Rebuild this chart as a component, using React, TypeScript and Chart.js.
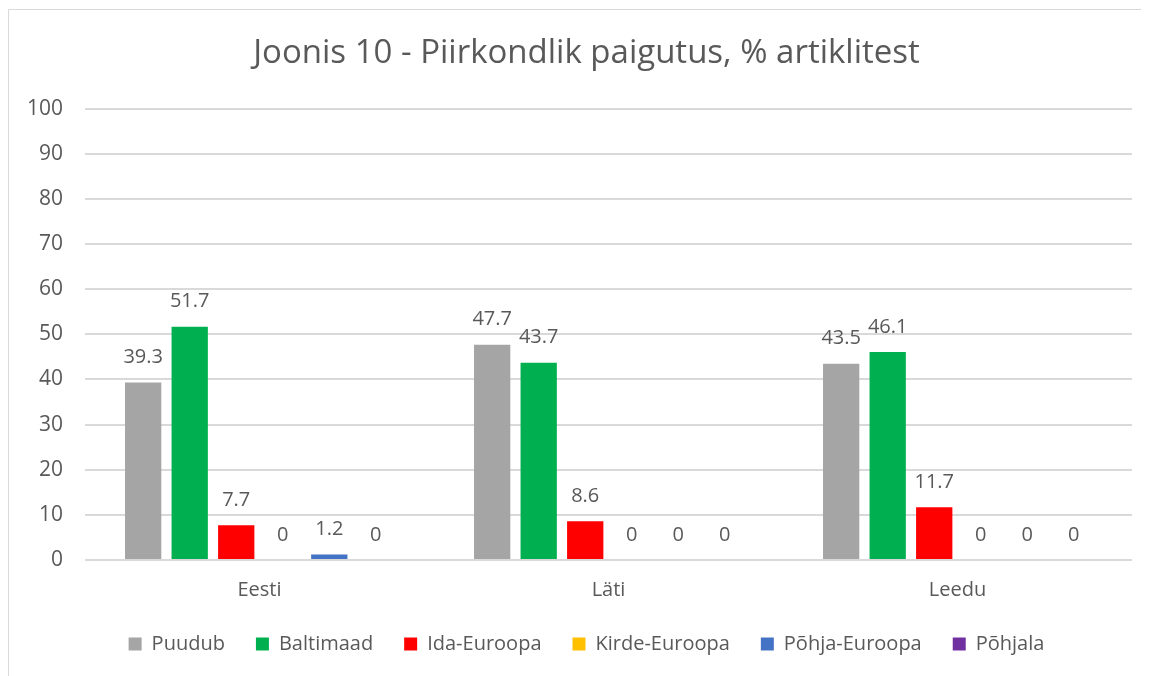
import React, { useEffect, useRef } from "react";
import { Chart, registerables } from "chart.js";

Chart.register(...registerables);

const categories = ["Eesti", "Läti", "Leedu"];
const seriesNames = ["Puudub", "Baltimaad", "Ida-Euroopa", "Kirde-Euroopa", "Põhja-Euroopa", "Põhjala"];
const puudub = [39.3, 47.7, 43.5];
const baltimaad = [51.7, 43.7, 46.1];
const idaEuroopa = [7.7, 8.6, 11.7];
const kirdeEuroopa = [0, 0, 0];
const pohjaEuroopa = [1.2, 0, 0];
const pohjala = [0, 0, 0];
const seriesColors = ["#A5A5A5", "#00B050", "#FF0000", "#FFC000", "#4472C4", "#7030A0"];
const titleText = "Joonis 10 - Piirkondlik paigutus, % artiklitest";

const FONT = "'Open Sans', 'Noto Sans', sans-serif";
const TEXT = "#595959";

export default function App() {
  const ref = useRef<HTMLCanvasElement | null>(null);
  useEffect(() => {
    document.documentElement.style.overflow = "hidden";
    document.body.style.overflow = "hidden";
    const values = [puudub, baltimaad, idaEuroopa, kirdeEuroopa, pohjaEuroopa, pohjala];
    const borderPlugin = {
      id: "border",
      beforeDraw(chart: any) {
        const ctx = chart.ctx;
        ctx.save();
        ctx.fillStyle = "#ffffff";
        ctx.fillRect(0, 0, chart.width, chart.height);
        ctx.strokeStyle = "#D9D9D9";
        ctx.lineWidth = 1;
        ctx.beginPath();
        ctx.moveTo(0.5, chart.height);
        ctx.lineTo(0.5, 1.5);
        ctx.lineTo(chart.width, 1.5);
        ctx.stroke();
        ctx.restore();
      },
    };
    const labelPlugin = {
      id: "valueLabels",
      afterDatasetsDraw(chart: any) {
        const ctx = chart.ctx;
        ctx.save();
        ctx.font = `20px ${FONT}`;
        ctx.fillStyle = TEXT;
        ctx.textAlign = "center";
        ctx.textBaseline = "middle";
        chart.data.datasets.forEach((ds: any, i: number) => {
          const meta = chart.getDatasetMeta(i);
          meta.data.forEach((el: any, j: number) => {
            ctx.fillText(String(ds.data[j]), el.x, el.y - 25);
          });
        });
        ctx.restore();
      },
    };
    const chart = new Chart(ref.current!, {
      type: "bar",
      data: {
        labels: categories,
        datasets: seriesNames.map((name, i) => ({
          label: name,
          data: values[i],
          backgroundColor: seriesColors[i],
          borderWidth: 0,
          categoryPercentage: 0.8,
          barPercentage: 0.78,
          yAxisID: "y",
        })),
      },
      options: {
        animation: false,
        responsive: false,
        layout: { padding: { left: 0, right: 0, top: 0, bottom: 12 } },
        plugins: {
          title: {
            display: true,
            text: titleText,
            color: TEXT,
            font: { family: FONT, size: 33, weight: "normal" as any },
            padding: { top: 26, bottom: 35 },
          },
          legend: {
            position: "bottom",
            labels: {
              color: TEXT,
              font: { family: FONT, size: 20 },
              boxWidth: 13,
              boxHeight: 13,
              padding: 31,
            },
          },
          tooltip: { enabled: false },
        },
        scales: {
          x: {
            grid: { display: false, drawTicks: false },
            border: { display: false },
            ticks: { color: TEXT, font: { family: FONT, size: 20 }, padding: 18 },
            afterFit(scale: any) {
              scale.height = 43;
            },
          },
          y: {
            min: 0,
            max: 100,
            grid: { color: "#D9D9D9", lineWidth: 2, drawTicks: false },
            border: { display: false },
            ticks: { stepSize: 10, color: TEXT, font: { family: FONT, size: 21 }, padding: 22 },
            afterFit(scale: any) {
              scale.width = 77;
            },
          },
          y2: {
            position: "right",
            min: 0,
            max: 100,
            grid: { display: false, drawTicks: false },
            border: { display: false },
            ticks: { display: false },
            afterFit(scale: any) {
              scale.width = 33;
            },
          },
        },
      },
      plugins: [borderPlugin, labelPlugin],
    });
    return () => chart.destroy();
  }, []);
  return (
    <div style={{ width: 1157, height: 668 }}>
      <canvas ref={ref} width={1157} height={668} style={{ display: "block" }} />
    </div>
  );
}
